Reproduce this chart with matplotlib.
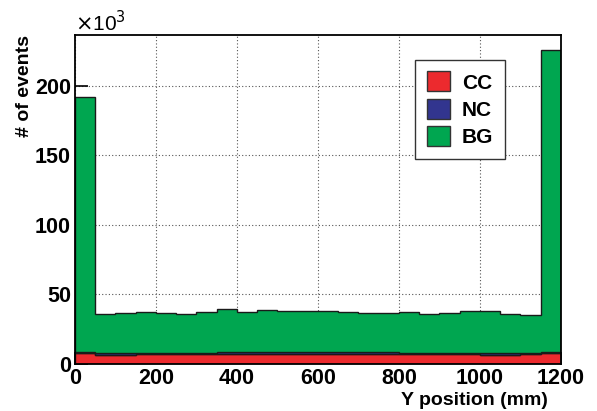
import numpy as np
import matplotlib
matplotlib.use('Agg')
from matplotlib import pyplot as plt
from matplotlib.patches import Patch

# bins of 50 mm from 0 to 1200
edges = np.arange(0, 1250, 50)

# counts per bin in units of 10^3
cc = [7.9, 6.8, 6.8, 6.9, 6.9, 7.0, 7.0, 7.2, 7.4, 7.4, 7.5, 7.5,
      7.5, 7.5, 7.4, 7.3, 7.0, 6.9, 6.9, 6.9, 6.8, 6.8, 6.9, 7.6]
nc = [1.0, 0.9, 0.9, 0.9, 1.0, 1.0, 1.0, 1.1, 1.2, 1.2, 1.2, 1.2,
      1.2, 1.2, 1.2, 1.1, 1.0, 1.0, 1.0, 1.0, 0.9, 0.9, 0.9, 1.0]
total = [191.6, 35.9, 36.9, 37.1, 36.4, 35.9, 37.4, 39.5, 37.6, 38.6, 37.8, 38.3,
         37.8, 37.1, 36.9, 36.9, 37.1, 35.9, 36.6, 37.8, 37.8, 35.9, 35.2, 225.6]
bg = [t - c - n for t, c, n in zip(total, cc, nc)]

labels = ['CC', 'NC', 'BG']
colors = ['#ec2a2e', '#32358f', '#00a650']

plt.rcParams['font.family'] = ['Liberation Sans', 'DejaVu Sans']

fig = plt.figure(figsize=(5.97, 4.11), dpi=100)
ax = fig.add_axes([0.1256, 0.1144, 0.8141, 0.8005])

base = np.zeros(len(cc))
for vals, col in zip([cc, nc, bg], colors):
    top = base + np.array(vals)
    ax.stairs(top, edges, baseline=base, fill=True, facecolor=col,
              edgecolor='#1a1a1a', linewidth=1.0, zorder=3)
    base = top

ax.set_xlim(0, 1200)
ax.set_ylim(0, 236.4)
ax.set_xticks([0, 200, 400, 600, 800, 1000, 1200])
ax.set_yticks([0, 50, 100, 150, 200])
ax.grid(True, linestyle=(0, (1, 2)), color='#555555', linewidth=0.8, zorder=0)
ax.set_axisbelow(True)
ax.tick_params(direction='in', length=9, width=1.2, labelsize=15.5, pad=3)
for lab in ax.get_xticklabels() + ax.get_yticklabels():
    lab.set_fontweight('bold')
for sp in ax.spines.values():
    sp.set_linewidth(1.3)
    sp.set_zorder(5)

ax.set_xlabel('Y position (mm)', fontsize=14, fontweight='bold', ha='right')
ax.xaxis.set_label_coords(0.973, -0.085)
ax.set_ylabel('# of events', fontsize=14, fontweight='bold', loc='top', labelpad=1)
ax.text(0.0, 1.0, r'$\times$10$^3$', transform=ax.transAxes, fontsize=15,
        ha='left', va='bottom')

handles = [Patch(facecolor=c, edgecolor='#333333', label=l) for c, l in zip(colors, labels)]
leg = ax.legend(handles=handles, loc='upper left', bbox_to_anchor=(0.70, 0.924),
                frameon=True, fancybox=False, framealpha=1, edgecolor='#333333',
                prop={'weight': 'bold', 'size': 15}, handlelength=1.1, handleheight=1.1,
                borderpad=0.55, labelspacing=0.3, handletextpad=0.6, borderaxespad=0)
leg.get_frame().set_linewidth(1.0)
leg.set_zorder(6)

fig.savefig('out.png', dpi=100)
